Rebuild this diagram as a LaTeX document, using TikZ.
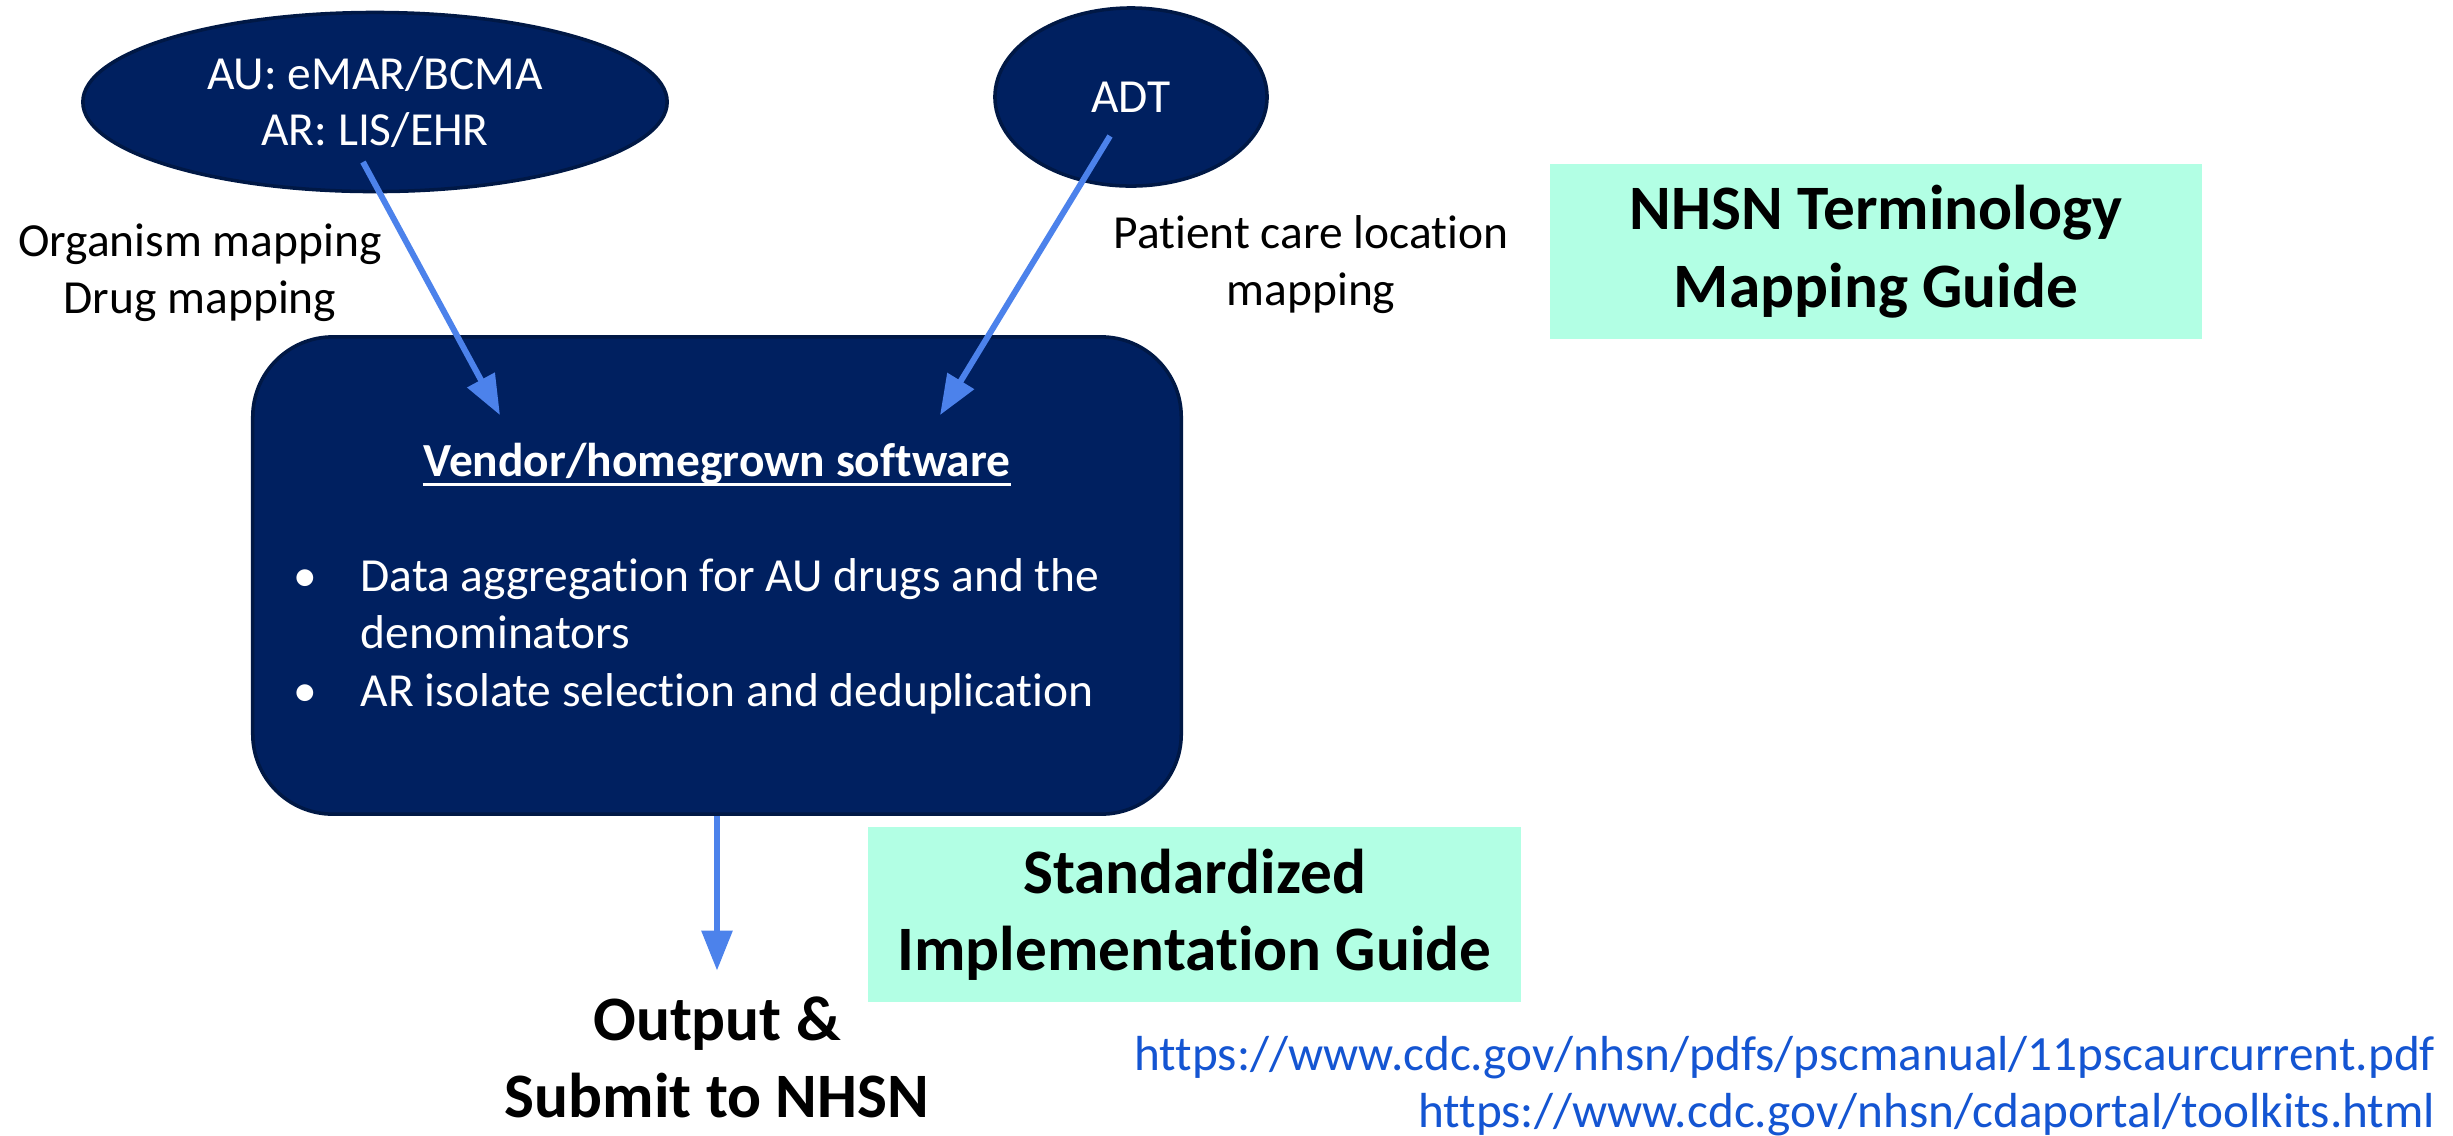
\documentclass[tikz,border=0pt]{standalone}
\usepackage{fontspec}
\setmainfont{Carlito}[Ligatures=NoCommon]
\usetikzlibrary{shapes.geometric,arrows.meta}

\definecolor{navy}{HTML}{002060}
\definecolor{navyline}{HTML}{001845}
\definecolor{mint}{RGB}{178,255,228}
\definecolor{flowblue}{RGB}{76,130,235}
\definecolor{linkblue}{RGB}{20,85,210}

\begin{document}
\begin{tikzpicture}[x=0.01cm,y=-0.01cm,
    src/.style={ellipse,draw=navyline,line width=1pt,fill=navy,text=white,inner sep=0pt,align=center,font=\fontsize{13.5}{16.2}\selectfont},
    guide/.style={fill=mint,inner sep=0pt,align=center,font=\fontsize{18}{22}\selectfont\bfseries},
    flow/.style={-{Triangle[length=0.4cm,width=0.3cm]},draw=flowblue,line width=1.7pt},
    note/.style={inner sep=0pt,align=center,font=\fontsize{13.5}{16.2}\selectfont},
    item/.style={inner sep=0pt,align=left,text=white,font=\fontsize{13.5}{16.2}\selectfont},
    link/.style={inner sep=0pt,text=linkblue,font=\fontsize{14}{17}\selectfont}]
    \useasboundingbox (0,0) rectangle (2453,1135);
    \node[src,minimum width=5.84cm,minimum height=1.79cm] (au) at (375,102) {AU: eMAR/BCMA\\AR: LIS/EHR};
    \node[src,minimum width=2.72cm,minimum height=1.78cm] (adt) at (1131,97) {ADT};
    \node[draw=navyline,line width=1pt,fill=navy,rounded corners=0.8cm,minimum width=9.28cm,minimum height=4.77cm] (sw) at (717,575.5) {};
    \node[note,anchor=base] (orgmap) at (200,313) {Organism mapping\\Drug mapping};
    \node[note,anchor=base] (locmap) at (1311,305) {Patient care location\\mapping};
    \node[guide,minimum width=6.52cm,minimum height=1.75cm] (term) at (1876,251.5) {NHSN Terminology\\Mapping Guide};
    \node[guide,minimum width=6.53cm,minimum height=1.75cm] (impl) at (1194.5,914.5) {Standardized\\Implementation Guide};
    \node[item,font=\fontsize{13.5}{16.2}\selectfont\bfseries,anchor=base] (swtitle) at (717,476) {Vendor/homegrown software};
    \draw[white,line width=0.85pt] ([yshift=-2.3pt]swtitle.base west)--([yshift=-2.3pt]swtitle.base east);
    \node[item,anchor=base] (b1) at (305,591) {\textbullet};
    \node[item,anchor=base west] (agg) at (360,648) {Data aggregation for AU drugs and the\\denominators};
    \node[item,anchor=base] (b2) at (305,706) {\textbullet};
    \node[item,anchor=base west] (dedup) at (360,706) {AR isolate selection and deduplication};
    \node[inner sep=0pt,align=center,font=\fontsize{18}{21.9}\selectfont\bfseries,anchor=base] (out) at (717,1117) {Output \&\\Submit to NHSN};
    \node[link,anchor=base east] (url1) at (2436,1070) {https://www.cdc.gov/nhsn/pdfs/pscmanual/11pscaurcurrent.pdf};
    \node[link,anchor=base east] (url2) at (2436,1127) {https://www.cdc.gov/nhsn/cdaportal/toolkits.html};
    \coordinate (auout) at ([shift={(-12,60)}]au.center);
    \coordinate (adtout) at ([shift={(-21,39)}]adt.center);
    \coordinate (swin1) at ([shift={(-217,80)}]sw.north);
    \coordinate (swin2) at ([shift={(223,80)}]sw.north);
    \draw[flow](auout)--(swin1);
    \draw[flow](adtout)--(swin2);
    \draw[flow,shorten >=0.25cm](sw.south)--(out.north);
\end{tikzpicture}
\end{document}
